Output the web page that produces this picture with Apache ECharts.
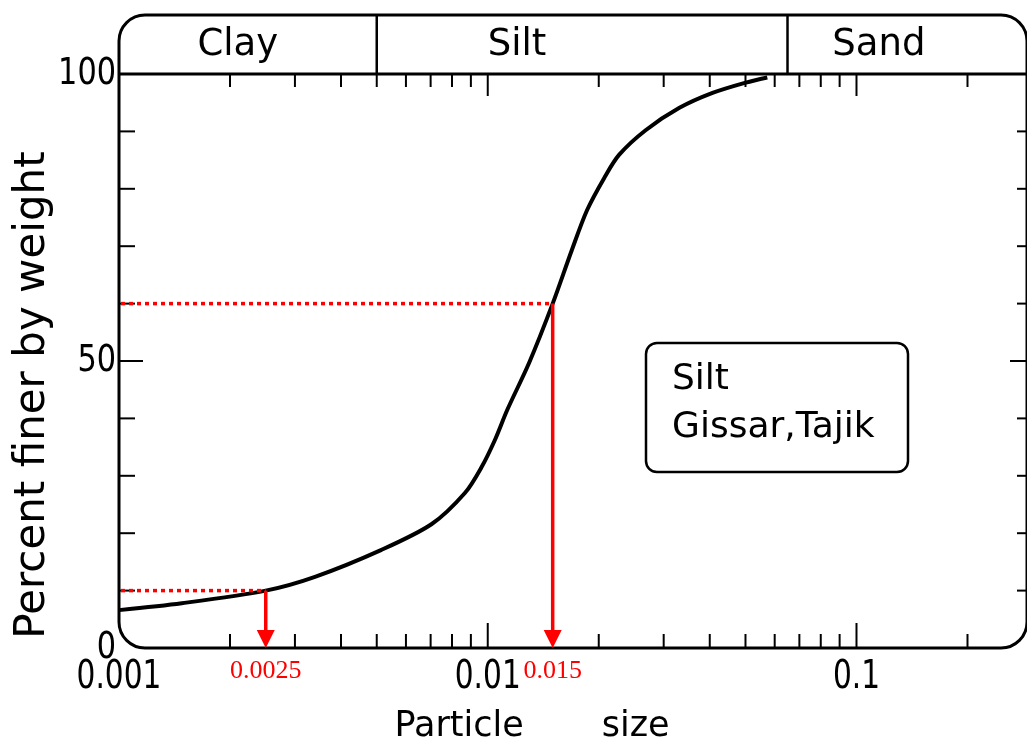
<!DOCTYPE html>
<html>
<head>
<meta charset="utf-8">
<title>Particle size distribution – Silt, Gissar, Tajik</title>
<script src="https://cdn.jsdelivr.net/npm/echarts@6/dist/echarts.min.js"></script>
<style>
  html, body { margin: 0; padding: 0; background: #fff; }
  #chart { width: 1027px; height: 747px; }
</style>
</head>
<body>
<div id="chart"></div>
<script>
// Grading curve: particle size (mm) against percent finer by weight
const particleSize = [0.001, 0.00148, 0.0025, 0.0034, 0.00515, 0.00705, 0.00867, 0.0096, 0.01045,
  0.0113, 0.01295, 0.015, 0.0169, 0.0186, 0.0207, 0.0227, 0.0268, 0.0331, 0.0407, 0.0501, 0.0573];
const percentFiner = [6.6, 7.8, 10, 12.4, 17.1, 21.6, 27.0, 31.4, 36.2,
  41.5, 49.7, 60, 69.3, 76.3, 81.9, 85.9, 90.2, 94.1, 96.7, 98.5, 99.4];

// Axis tick labels
const sizeTickValues = [0.001, 0.01, 0.1];
const sizeTickLabels = ['0.001', '0.01', '0.1'];
const percentTickValues = [0, 50, 100];
const percentTickLabels = ['0', '50', '100'];

// Soil fractions shown in the band above the plot
const fractionNames = ['Clay', 'Silt', 'Sand'];
const fractionLimits = [0.005, 0.065];

// Characteristic diameters D10 and D60
const markerPercents = [10, 60];
const markerSizes = [0.0025, 0.015];
const markerLabels = ['0.0025', '0.015'];

// Sample description
const sampleNotes = ['Silt', 'Gissar,Tajik'];

// ---------------------------------------------------------------
const X_MIN = 0.001, X_MAX = 0.29;
const FONT = 'DejaVu Sans';
const BAND_H = 59;
const bandLabelAnchor = [0.0021, 0.012, 0.115];

function frameRenderer(params, api) {
  const [xl, yb] = api.coord([X_MIN, 0]);
  const [xr, yt] = api.coord([X_MAX, 100]);
  const bandTop = yt - BAND_H;
  const stroke = '#000';
  const kids = [];
  const line = (x1, y1, x2, y2, w) => kids.push({
    type: 'line', shape: { x1, y1, x2, y2 }, style: { stroke, lineWidth: w || 2, lineCap: 'butt' }
  });

  // outer rounded frame and band separator
  kids.push({ type: 'rect', shape: { x: xl, y: bandTop, width: xr - xl, height: yb - bandTop, r: 26 },
    style: { fill: 'none', stroke, lineWidth: 3 } });
  line(xl, yt, xr, yt, 3);

  fractionLimits.forEach(v => {
    const x = api.coord([v, 100])[0];
    line(x, bandTop, x, yt, 2.5);
  });
  fractionNames.forEach((name, i) => {
    const x = api.coord([bandLabelAnchor[i], 100])[0];
    kids.push({ type: 'text', x, y: bandTop + 30,
      style: { text: name, fill: '#000', fontFamily: FONT, fontSize: 37, align: 'center', verticalAlign: 'middle' } });
  });

  // log ticks on bottom (pointing up) and top (pointing down)
  for (let dec = X_MIN; dec < X_MAX; dec *= 10) {
    for (let m = 1; m <= 9; m++) {
      const v = dec * m;
      if (v <= X_MIN * 1.0001 || v > X_MAX) continue;
      const x = api.coord([v, 0])[0];
      const major = m === 1;
      line(x, yb, x, yb - (major ? 25 : 14), 2);
      line(x, yt, x, yt + (major ? 22 : 13), 2);
    }
  }
  // linear ticks on left (pointing right) and right (pointing left)
  for (let p = 10; p < 100; p += 10) {
    const y = api.coord([X_MIN, p])[1];
    const major = p === 50;
    line(xl, y, xl + (major ? 24 : 16), y, 2);
    line(xr, y, xr - (major ? 17 : 10), y, 2);
  }

  // tick labels
  sizeTickValues.forEach((v, i) => {
    const x = api.coord([v, 0])[0];
    kids.push({ type: 'text', x, y: yb + 30, scaleX: 0.76,
      style: { text: sizeTickLabels[i], fill: '#000', fontFamily: FONT, fontSize: 39, align: 'center', verticalAlign: 'middle' } });
  });
  percentTickValues.forEach((v, i) => {
    const y = api.coord([X_MIN, v])[1];
    kids.push({ type: 'text', x: xl - 3, y, scaleX: 0.82,
      style: { text: percentTickLabels[i], fill: '#000', fontFamily: FONT, fontSize: 37, align: 'right', verticalAlign: 'middle' } });
  });

  return { type: 'group', silent: true, children: kids };
}

function markerRenderer(params, api) {
  const i = params.dataIndex;
  const red = '#ff0000';
  const [xl, yb] = api.coord([X_MIN, 0]);
  const [x, y] = api.coord([markerSizes[i], markerPercents[i]]);
  const head = 18;
  return {
    type: 'group', silent: true,
    children: [
      { type: 'line', shape: { x1: xl + 2, y1: y, x2: x, y2: y },
        style: { stroke: red, lineWidth: 3.5, lineDash: [4, 4] } },
      { type: 'line', shape: { x1: x, y1: y, x2: x, y2: yb - head + 2 },
        style: { stroke: red, lineWidth: 3.5 } },
      { type: 'polygon', shape: { points: [[x - 9, yb - head], [x + 9, yb - head], [x, yb]] },
        style: { fill: red } },
      { type: 'text', x, y: yb + 23,
        style: { text: markerLabels[i], fill: red, fontFamily: 'Liberation Serif', fontSize: 26,
          align: 'center', verticalAlign: 'middle' } }
    ]
  };
}

const chart = echarts.init(document.getElementById('chart'), null, { renderer: 'canvas' });

chart.setOption({
  animation: false,
  backgroundColor: '#fff',
  grid: { left: 119, right: -3, top: 74, bottom: 99 },
  xAxis: {
    type: 'log', logBase: 10, min: X_MIN, max: X_MAX,
    axisLine: { show: false }, axisTick: { show: false }, axisLabel: { show: false }, splitLine: { show: false }
  },
  yAxis: {
    type: 'value', min: 0, max: 100, interval: 10,
    axisLine: { show: false }, axisTick: { show: false }, axisLabel: { show: false }, splitLine: { show: false }
  },
  graphic: [
    { type: 'text', x: 33, y: 395, rotation: Math.PI / 2,
      style: { text: 'Percent finer by weight', fill: '#000', font: '42px "DejaVu Sans"',
        align: 'center', verticalAlign: 'middle' } },
    { type: 'text', x: 532, y: 727,
      style: { text: 'Particle       size', fill: '#000', font: '35px "DejaVu Sans"',
        align: 'center', verticalAlign: 'middle' } },
    { type: 'rect', shape: { x: 646, y: 343, width: 262, height: 129, r: 11 },
      style: { fill: 'none', stroke: '#000', lineWidth: 2.5 } },
    { type: 'text', x: 672, y: 380,
      style: { text: sampleNotes[0], fill: '#000', font: '36px "DejaVu Sans"', align: 'left', verticalAlign: 'middle' } },
    { type: 'text', x: 672, y: 428,
      style: { text: sampleNotes[1], fill: '#000', font: '36px "DejaVu Sans"', align: 'left', verticalAlign: 'middle' } }
  ],
  series: [
    {
      type: 'custom', name: 'frame', coordinateSystem: 'cartesian2d', clip: false, z: 1,
      data: [[0.01, 50]], renderItem: frameRenderer
    },
    {
      type: 'line', name: 'Silt, Gissar', z: 3,
      data: particleSize.map((d, i) => [d, percentFiner[i]]),
      smooth: 0.3, showSymbol: false,
      lineStyle: { color: '#000', width: 4 }
    },
    {
      type: 'custom', name: 'D10 / D60', coordinateSystem: 'cartesian2d', clip: false, z: 4,
      data: markerSizes.map((d, i) => [d, markerPercents[i]]), renderItem: markerRenderer
    }
  ]
});
</script>
</body>
</html>
